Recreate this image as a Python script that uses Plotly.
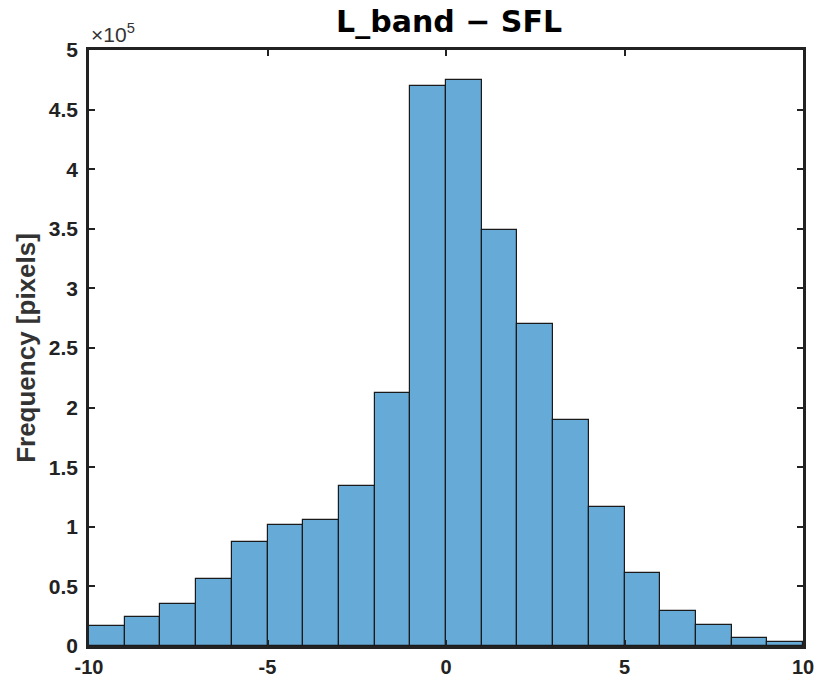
import plotly.graph_objects as go

bin_left = [-10, -9, -8, -7, -6, -5, -4, -3, -2, -1, 0, 1, 2, 3, 4, 5, 6, 7, 8, 9]
counts = [16800, 24000, 35000, 56500, 87000, 101500, 105700, 134000, 212000, 470000,
          475000, 349000, 270000, 190000, 117000, 61000, 29400, 17600, 6500, 3600]
y_ticks = [0, 50000, 100000, 150000, 200000, 250000, 300000, 350000, 400000, 450000, 500000]
y_tick_text = ["0", "0.5", "1", "1.5", "2", "2.5", "3", "3.5", "4", "4.5", "5"]
x_ticks = [-10, -5, 0, 5, 10]

centers = [b + 0.5 for b in bin_left]

fig = go.Figure(go.Bar(
    x=centers, y=counts, width=1,
    marker=dict(color="#66aad7", line=dict(color="#1a1a1a", width=1.2)),
    hoverinfo="skip",
))

ytickfont = dict(family="Liberation Sans, Arial", size=21, color="#222", weight="bold")
xtickfont = dict(family="Liberation Sans, Arial", size=20, color="#222", weight="bold")
fig.update_layout(
    width=818, height=680,
    margin=dict(l=89, r=15, t=50, b=34, autoexpand=False),
    paper_bgcolor="white", plot_bgcolor="white",
    showlegend=False,
    bargap=0,
    font=dict(family="Liberation Sans, Arial"),
    title=dict(text="<b>L_band − SFL</b>", x=0.549, xanchor="center", y=0.968, yanchor="middle",
               font=dict(family="DejaVu Sans", size=30, color="black")),
    xaxis=dict(range=[-10, 10], tickvals=x_ticks, ticktext=[str(v) for v in x_ticks],
               showgrid=False, zeroline=False, showline=True, linecolor="#222", linewidth=2.5,
               mirror="allticks", ticks="inside", ticklen=6, tickwidth=1.5, tickcolor="#222",
               tickfont=xtickfont, ticklabelstandoff=1, automargin=False),
    yaxis=dict(range=[0, 500000], tickvals=y_ticks, ticktext=y_tick_text,
               showgrid=False, zeroline=False, showline=True, linecolor="#222", linewidth=2.5,
               mirror="allticks", ticks="inside", ticklen=6, tickwidth=1.5, tickcolor="#222",
               tickfont=ytickfont, ticklabelstandoff=4, automargin=False,
               title=dict(text="<b>Frequency [pixels]</b>", standoff=6,
                          font=dict(family="Liberation Sans, Arial", size=26, color="#333"))),
    annotations=[dict(text="×10<sup>5</sup>", xref="paper", yref="paper", x=0.0, y=1.0,
                      xanchor="left", yanchor="bottom", showarrow=False, yshift=2,
                      font=dict(family="Liberation Sans, Arial", size=21, color="#333"))],
)
fig.write_html("out.html")
